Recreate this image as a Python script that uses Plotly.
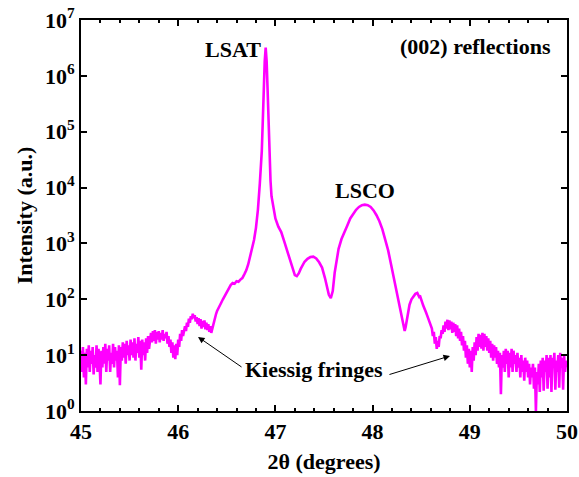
import plotly.graph_objects as go

two_theta = [
    45.00, 45.01, 45.02, 45.03, 45.04, 45.05, 45.06, 45.07, 45.08, 45.09,
    45.10, 45.11, 45.12, 45.13, 45.14, 45.15, 45.16, 45.17, 45.18, 45.19,
    45.20, 45.21, 45.22, 45.23, 45.24, 45.25, 45.26, 45.27, 45.28, 45.29,
    45.30, 45.31, 45.32, 45.33, 45.34, 45.35, 45.36, 45.37, 45.38, 45.39,
    45.40, 45.41, 45.42, 45.43, 45.44, 45.45, 45.46, 45.47, 45.48, 45.49,
    45.50, 45.51, 45.52, 45.53, 45.54, 45.55, 45.56, 45.57, 45.58, 45.59,
    45.60, 45.61, 45.62, 45.63, 45.64, 45.65, 45.66, 45.67, 45.68, 45.69,
    45.70, 45.72, 45.73, 45.74, 45.75, 45.76, 45.77, 45.78, 45.79, 45.80,
    45.81, 45.82, 45.83, 45.84, 45.85, 45.86, 45.87, 45.88, 45.89, 45.90,
    45.91, 45.92, 45.93, 45.94, 45.95, 45.96, 45.97, 45.98, 45.99, 46.00,
    46.01, 46.02, 46.03, 46.04, 46.05, 46.07, 46.08, 46.09, 46.10, 46.11,
    46.12, 46.13, 46.14, 46.15, 46.16, 46.17, 46.18, 46.19, 46.20, 46.21,
    46.22, 46.23, 46.24, 46.25, 46.26, 46.27, 46.28, 46.29, 46.30, 46.31,
    46.32, 46.33, 46.34, 46.35, 46.36, 46.37, 46.38, 46.39, 46.40, 46.42,
    46.44, 46.46, 46.48, 46.50, 46.52, 46.54, 46.56, 46.58, 46.60, 46.62,
    46.64, 46.66, 46.68, 46.70, 46.72, 46.74, 46.76, 46.78, 46.80, 46.82,
    46.84, 46.86, 46.87, 46.88, 46.89, 46.90, 46.91, 46.92, 46.93, 46.94,
    46.95, 46.96, 46.98, 47.00, 47.03, 47.06, 47.09, 47.12, 47.15, 47.18,
    47.20, 47.22, 47.24, 47.26, 47.28, 47.30, 47.33, 47.36, 47.39, 47.42,
    47.45, 47.48, 47.51, 47.53, 47.55, 47.57, 47.59, 47.61, 47.63, 47.65,
    47.68, 47.71, 47.74, 47.77, 47.80, 47.83, 47.86, 47.89, 47.92, 47.95,
    47.98, 48.01, 48.04, 48.07, 48.10, 48.13, 48.16, 48.19, 48.22, 48.25,
    48.28, 48.30, 48.32, 48.33, 48.34, 48.36, 48.38, 48.40, 48.42, 48.44,
    48.46, 48.47, 48.48, 48.49, 48.50, 48.51, 48.52, 48.53, 48.54, 48.55,
    48.56, 48.57, 48.58, 48.59, 48.60, 48.61, 48.62, 48.63, 48.64, 48.65,
    48.66, 48.67, 48.68, 48.69, 48.70, 48.71, 48.72, 48.73, 48.74, 48.75,
    48.76, 48.77, 48.78, 48.79, 48.80, 48.81, 48.82, 48.83, 48.84, 48.85,
    48.86, 48.87, 48.88, 48.89, 48.90, 48.91, 48.92, 48.93, 48.94, 48.95,
    48.96, 48.97, 48.98, 48.99, 49.00, 49.01, 49.02, 49.03, 49.04, 49.05,
    49.06, 49.07, 49.08, 49.09, 49.10, 49.11, 49.12, 49.13, 49.14, 49.15,
    49.16, 49.17, 49.18, 49.19, 49.20, 49.21, 49.22, 49.23, 49.24, 49.25,
    49.26, 49.27, 49.28, 49.29, 49.30, 49.31, 49.32, 49.33, 49.34, 49.35,
    49.36, 49.37, 49.38, 49.39, 49.40, 49.41, 49.42, 49.43, 49.44, 49.45,
    49.46, 49.47, 49.48, 49.49, 49.50, 49.51, 49.52, 49.53, 49.54, 49.55,
    49.56, 49.57, 49.58, 49.59, 49.60, 49.61, 49.62, 49.63, 49.64, 49.65,
    49.66, 49.67, 49.68, 49.69, 49.70, 49.71, 49.72, 49.73, 49.74, 49.75,
    49.76, 49.77, 49.78, 49.79, 49.80, 49.81, 49.82, 49.83, 49.84, 49.85,
    49.86, 49.87, 49.88, 49.89, 49.90, 49.91, 49.92, 49.93, 49.94, 49.95,
    49.96, 49.97, 49.98, 49.99, 50.00,
]

intensity = [
    12, 5, 14, 4, 11, 3, 13, 6, 15, 5,
    12, 7, 14, 4.5, 10, 6, 15, 5, 13, 8,
    3, 12, 6, 14, 7, 16, 5, 13, 8, 15,
    5, 11, 7, 16, 6, 14, 8, 12, 4, 15,
    2.9, 14, 8, 17, 9, 16, 7, 18, 10, 15,
    8, 19, 10, 17, 9, 20, 8, 16, 11, 21,
    9, 18, 5.5, 19, 10, 17, 8, 20, 11, 22,
    13, 25, 17, 27, 18, 28, 16, 26, 19, 27,
    17, 25, 19, 28, 18, 24, 20, 26, 16, 22,
    14, 19, 11, 17, 9, 15, 8.5, 16, 10, 19,
    14, 24, 18, 28, 22, 33, 27, 38, 32, 45,
    38, 50, 44, 55, 46, 52, 40, 48, 36, 46,
    33, 44, 30, 41, 32, 42, 29, 38, 28, 36,
    26, 33, 25, 30, 34, 40, 48, 55, 62, 75,
    85, 100, 115, 135, 160, 180, 195, 190, 210, 205,
    225, 240, 280, 330, 420, 600, 800, 1150, 1900, 4000,
    12000, 45000, 150000, 600000, 1800000, 3200000, 1800000, 550000, 120000, 35000,
    13000, 7000, 4000, 2800, 2000, 1600, 1100, 750, 500, 330,
    270, 260, 290, 350, 420, 470, 530, 570, 580, 540,
    460, 370, 240, 165, 120, 105, 140, 300, 550, 800,
    1200, 1650, 2100, 2800, 3400, 4000, 4500, 4850, 4950, 4850,
    4500, 3900, 3200, 2500, 1800, 1200, 750, 420, 230, 140,
    80, 50, 32, 27, 32, 55, 80, 100, 115, 125,
    130, 118, 110, 112, 95, 88, 78, 72, 64, 58,
    52, 47, 43, 38, 33, 30, 22, 26, 16, 21,
    13, 18, 14, 22, 20, 28, 24, 34, 26, 40,
    30, 43, 28, 42, 29, 40, 25, 38, 26, 36,
    22, 34, 20, 30, 18, 26, 15, 22, 12, 18,
    9, 15, 7, 13, 6, 12, 5, 14, 8, 17,
    10, 21, 12, 24, 14, 23, 13, 25, 12, 24,
    14, 22, 12, 20, 11, 18, 9, 16, 8, 15,
    9, 14, 7, 12, 6, 11, 2, 10, 6, 12,
    5, 13, 7, 12, 4, 11, 6, 13, 5, 12,
    7, 10, 5, 11, 6, 9, 4, 10, 5, 8,
    3.5, 9, 5, 8, 4, 7, 3, 6, 4, 7,
    2.5, 6, 1, 5, 3, 7, 2.2, 8, 4, 9,
    2.3, 8, 5, 10, 2.5, 9, 4, 10, 2.2, 9,
    6, 11, 2.4, 8, 5, 10, 2.6, 11, 6, 9,
    2.4, 10, 5, 8, 6,
]

x_ticks = [45, 46, 47, 48, 49, 50]
y_ticks = [1, 10, 100, 1000, 10000, 100000, 1000000, 10000000]
y_tick_text = ["10<sup>0</sup>", "10<sup>1</sup>", "10<sup>2</sup>", "10<sup>3</sup>",
               "10<sup>4</sup>", "10<sup>5</sup>", "10<sup>6</sup>", "10<sup>7</sup>"]

FONT = "Liberation Serif, Times New Roman, serif"
fs = 22

fig = go.Figure()
fig.add_trace(go.Scatter(x=two_theta, y=intensity, mode="lines",
                         line=dict(color="#FF00FF", width=2.6), showlegend=False))

axis_common = dict(showline=True, linecolor="black", linewidth=2, mirror="allticks",
                   ticks="inside", tickcolor="black", tickwidth=2, ticklen=6,
                   showgrid=False, zeroline=False, automargin=False,
                   tickfont=dict(family=FONT, size=fs, color="black", weight="bold"),
                   title_font=dict(family=FONT, size=fs, color="black", weight="bold"))

fig.update_xaxes(range=[45, 50], tickvals=x_ticks,
                 title_text="2θ (degrees)", title_standoff=10,
                 minor=dict(dtick=0.2, ticks="inside", ticklen=3, tickwidth=1.5, tickcolor="black"),
                 **axis_common)
fig.update_yaxes(type="log", range=[0, 7], tickvals=y_ticks, ticktext=y_tick_text,
                 title_text="Intensity (a.u.)", title_standoff=6,
                 **axis_common)

tf = dict(family=FONT, size=fs, color="black", weight="bold")
anns = [
    dict(x=46.56, y=6.47, text="LSAT"),
    dict(x=47.92, y=3.94, text="LSCO"),
    dict(x=49.06, y=6.52, text="(002) reflections"),
    dict(x=47.40, y=0.735, text="Kiessig fringes"),
]
for a in anns:
    fig.add_annotation(x=a["x"], y=a["y"], xref="x", yref="y", text=a["text"],
                       showarrow=False, font=tf)

for head, tail in [((46.204, 1.326), (46.667, 0.77)), ((48.796, 0.986), (48.158, 0.645))]:
    fig.add_annotation(x=head[0], y=head[1], ax=tail[0], ay=tail[1],
                       xref="x", yref="y", axref="x", ayref="y", text="",
                       showarrow=True, arrowhead=2, arrowsize=1.3, arrowwidth=1,
                       arrowcolor="black")

fig.update_layout(width=579, height=477, margin=dict(l=81, r=12, t=20, b=66),
                  plot_bgcolor="white", paper_bgcolor="white")

fig.write_html("out.html", config={"displayModeBar": False},
               post_script="document.body.style.margin='0';document.body.style.overflow='hidden';")
